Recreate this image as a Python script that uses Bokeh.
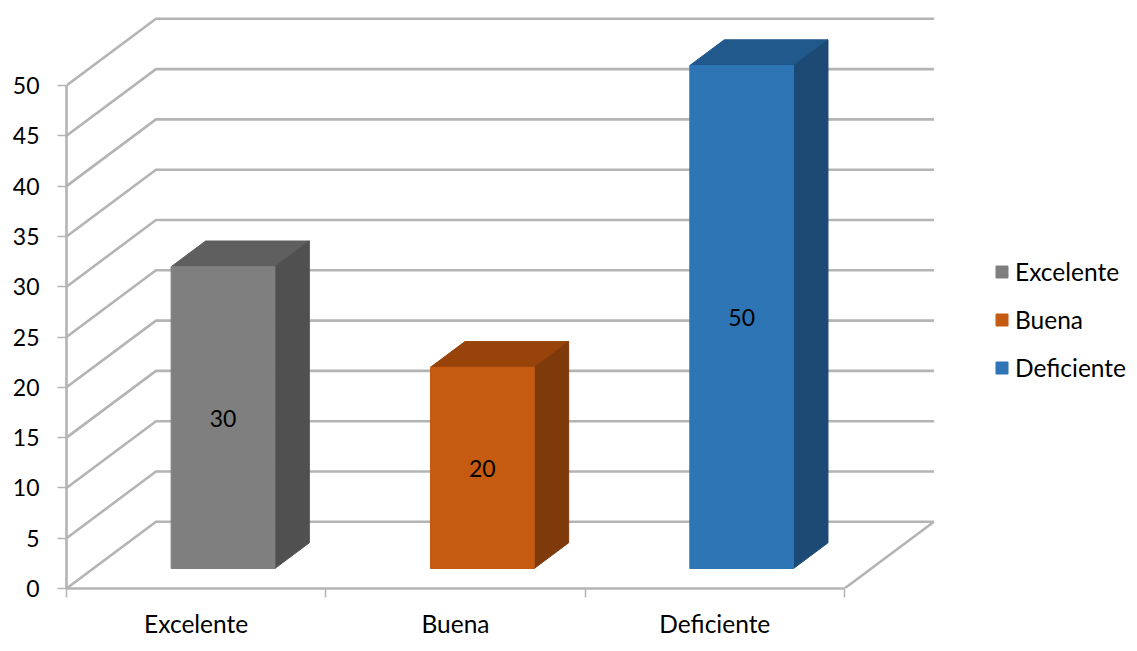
from bokeh.plotting import figure
from bokeh.models import Range1d, FixedTicker, Legend, LegendItem, ColumnDataSource
from bokeh.core.properties import value
from bokeh.embed import file_html
from bokeh.resources import INLINE

categories = ["Excelente", "Buena", "Deficiente"]
values = [30, 20, 50]
y_ticks = [0, 5, 10, 15, 20, 25, 30, 35, 40, 45, 50]
front_colors = ["#7f7f7f", "#c55a11", "#2e75b6"]
top_colors = ["#5f5f5f", "#974309", "#22598c"]
side_colors = ["#505050", "#7f3a0b", "#1c4a74"]

FONT = "Lato"
FS = "24.5px"
FS_NUM = "23px"
GRID = "#b4b4b4"
# oblique projection of the 3-D box: depth shift of the back wall, in axis units
DX, DY = 0.345, 6.63
BAR_W = 0.4
T0, T1 = 0.3, 0.685   # bar's front/back position in the depth

p = figure(width=1130, height=644, output_backend="svg", toolbar_location=None,
           x_range=Range1d(0, 1064 / 259.33), y_range=Range1d(0, 588 / 10.06),
           min_border_left=66, min_border_right=0, min_border_top=0, min_border_bottom=56,
           outline_line_color=None, background_fill_color="white")
p.grid.visible = False

# walls
n = len(categories)
xs, ys = [], []
for t in y_ticks:
    xs.append([0, DX, n + DX])
    ys.append([t, t + DY, t + DY])
xs.append([n, n + DX])
ys.append([0, DY])
p.multi_line(xs, ys, line_color=GRID, line_width=2.6)

# bars
items = []
lab_x, lab_y = [], []
for i, (c, v) in enumerate(zip(categories, values)):
    cx = i + 0.5
    l, r = cx - BAR_W / 2, cx + BAR_W / 2
    x0, y0 = T0 * DX, T0 * DY
    x1, y1 = T1 * DX, T1 * DY
    # top
    p.patch([l + x0, r + x0, r + x1, l + x1], [v + y0, v + y0, v + y1, v + y1],
            fill_color=top_colors[i], line_color=top_colors[i], line_width=1)
    # side
    p.patch([r + x0, r + x1, r + x1, r + x0], [y0, y1, v + y1, v + y0],
            fill_color=side_colors[i], line_color=side_colors[i], line_width=1)
    # front
    q = p.quad(left=l + x0, right=r + x0, bottom=y0, top=v + y0,
               fill_color=front_colors[i], line_color=front_colors[i], line_width=1)
    items.append(LegendItem(label=c, renderers=[q]))
    lab_x.append(cx + x0)
    lab_y.append(v / 2 + y0)

src = ColumnDataSource(dict(x=lab_x, y=lab_y, t=[str(v) for v in values]))
p.text("x", "y", text="t", source=src, text_align="center", text_baseline="middle",
       text_font=value(FONT), text_font_size=FS_NUM, text_color="black", y_offset=1)

# axes
ax = p.xaxis[0]
ax.ticker = FixedTicker(ticks=[i + 0.5 for i in range(n)], minor_ticks=list(range(n + 1)))
ax.major_label_overrides = {i + 0.5: c for i, c in enumerate(categories)}
ax.major_tick_in = 0
ax.major_tick_out = 0
ax.minor_tick_in = 0
ax.minor_tick_out = 9
ax.minor_tick_line_color = GRID
ax.minor_tick_line_width = 1.5
ax.axis_line_color = GRID
ax.axis_line_width = 2.6
ax.major_label_standoff = 11
ax.major_label_text_font = FONT
ax.major_label_text_font_size = FS
ax.major_label_text_color = "black"

ay = p.yaxis[0]
ay.ticker = FixedTicker(ticks=y_ticks)
ay.major_tick_in = 0
ay.major_tick_out = 9
ay.major_tick_line_color = GRID
ay.major_tick_line_width = 1.5
ay.minor_tick_line_color = None
ay.axis_line_color = GRID
ay.axis_line_width = 2.6
ay.major_label_standoff = 18
ay.major_label_text_font = FONT
ay.major_label_text_font_size = FS_NUM
ay.major_label_text_color = "black"

# fixed bounds so the wall lines at the top sit above the axis end
ay.bounds = (0, 50)
ax.bounds = (0, n)

legend = Legend(items=items, location=(928, 206), orientation="vertical",
                background_fill_alpha=0, border_line_color=None,
                glyph_width=15, glyph_height=15, label_width=10, label_height=30,
                spacing=18, padding=0, margin=0, label_standoff=6,
                label_text_font=FONT, label_text_font_size=FS, label_text_color="black")
p.add_layout(legend)

open("out.html", "w").write(file_html(p, INLINE))
